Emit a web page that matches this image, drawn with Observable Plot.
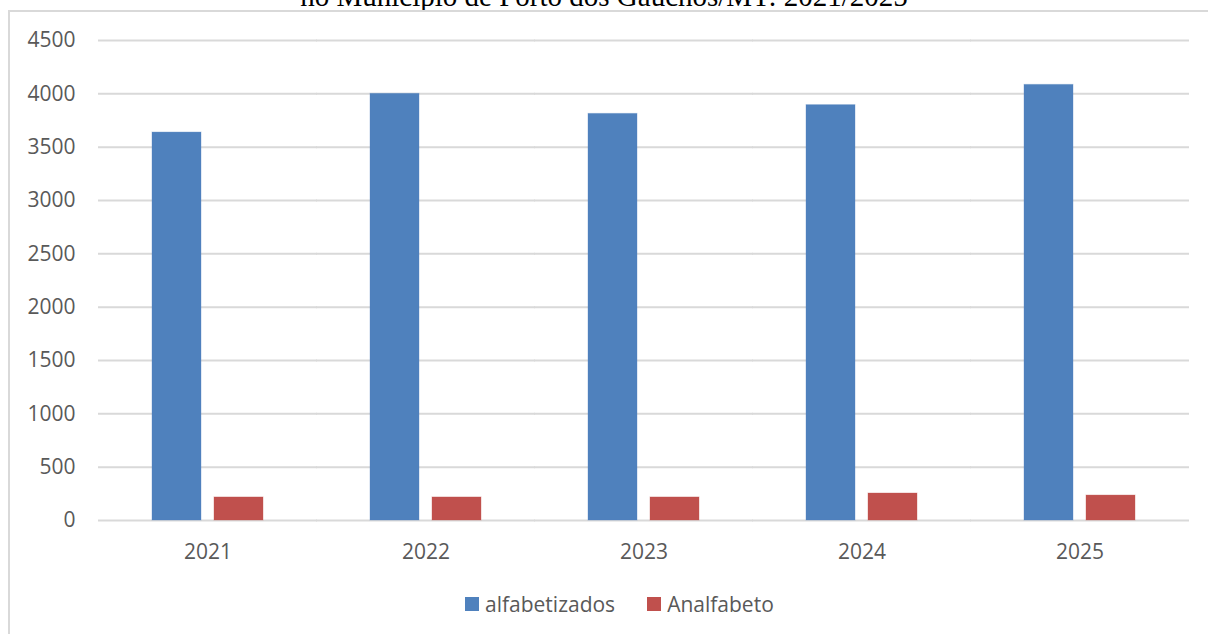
<!DOCTYPE html>
<html>
<head>
<meta charset="utf-8">
<script src="https://cdn.jsdelivr.net/npm/d3@7"></script>
<script src="https://cdn.jsdelivr.net/npm/@observablehq/plot@0.6"></script>
<style>
  html, body { margin: 0; padding: 0; background: #fff; overflow: hidden; }
  #page { position: relative; width: 1208px; height: 634px; overflow: hidden; }
  #title { position: absolute; left: 0; width: 1208px; top: -18px; text-align: center; white-space: nowrap;
           font-family: "Liberation Serif", "Times New Roman", serif; font-size: 29px; color: #000; line-height: 29px; }
  #box { position: absolute; left: 8px; top: 10px; width: 1300px; height: 700px;
         border-left: 2px solid #d9d9d9; border-top: 2px solid #d9d9d9; box-sizing: border-box; }
  #chart { position: absolute; left: 0; top: 0; }
  #legend { position: absolute; left: 465px; top: 587px; }
  #legend, #legend * { font-family: "Open Sans", sans-serif; font-size: 21px; color: #595959; }
  #legend [class$="-swatch"] { margin-right: 32px !important; }
  #legend [class$="-swatch"] > svg { margin-right: 6px !important; }
</style>
</head>
<body>
<div id="page">
  <div id="title"></div>
  <div id="box"></div>
  <div id="chart"></div>
  <div id="legend"></div>
</div>
<script>
const titleText = "no Município de Porto dos Gaúchos/MT: 2021/2025";
const years = ["2021", "2022", "2023", "2024", "2025"];
const seriesNames = ["alfabetizados", "Analfabeto"];
const alfabetizados = [3637, 4000, 3812, 3894, 4084];
const analfabeto = [216, 216, 216, 253, 234];
const yTicks = [0, 500, 1000, 1500, 2000, 2500, 3000, 3500, 4000, 4500];
const colors = ["#4f81bd", "#c0504d"];

document.getElementById("title").textContent = titleText;

const data = [];
years.forEach((yr, i) => {
  data.push({year: yr, series: seriesNames[0], value: alfabetizados[i]});
  data.push({year: yr, series: seriesNames[1], value: analfabeto[i]});
});

const textColor = "#595959";
const chart = Plot.plot({
  width: 1208,
  height: 575,
  marginLeft: 97,
  marginRight: 17,
  marginTop: 40,
  marginBottom: 55,
  style: {fontFamily: "Open Sans, sans-serif", fontSize: "21px", color: textColor, background: "transparent"},
  fx: {domain: years, paddingInner: 0.489, paddingOuter: 0.2445, label: null},
  x: {domain: seriesNames, paddingInner: 0.21, paddingOuter: 0, axis: null},
  y: {domain: [0, 4500], ticks: yTicks, label: null},
  color: {domain: seriesNames, range: colors},
  marks: [
    Plot.ruleY(yTicks, {y: d => d, stroke: "#d9d9d9", strokeWidth: 2, insetLeft: -54, insetRight: -54}),
    Plot.barY(data, {fx: "year", x: "series", y: "value", fill: "series", stroke: "series", strokeOpacity: 0.35}),
    Plot.axisY({ticks: yTicks, tickFormat: d => String(d), tickSize: 0, tickPadding: 77, fontSize: 21, label: null, fill: textColor}),
    Plot.axisFx({anchor: "bottom", tickSize: 0, tickPadding: 24, fontSize: 21, label: null, fill: textColor})
  ]
});
document.getElementById("chart").appendChild(chart);

const legend = Plot.legend({
  color: {domain: seriesNames, range: colors},
  legend: "swatches",
  swatchSize: 14,
  style: {fontFamily: "Open Sans, sans-serif", fontSize: "21px", color: textColor}
});
document.getElementById("legend").appendChild(legend);
</script>
</body>
</html>
